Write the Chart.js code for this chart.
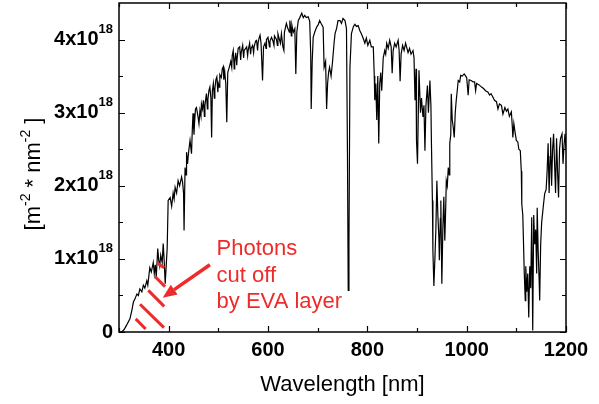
<!DOCTYPE html>
<html><head><meta charset="utf-8">
<script src="https://cdn.jsdelivr.net/npm/chart.js@4"></script>
<style>html,body{margin:0;padding:0;background:#fff}#wrap{width:599px;height:404px}</style>
</head><body><div id="wrap"><canvas id="c" width="599" height="404"></canvas></div>
<script>
// Wavelength [nm]
const wavelength = [
300,305,310,315,322,326,329,332,336,339,342,346,349,352,356,358,362,365,369,371,373,375,378,380,382,384,387,389,391,393,395,397,399,403,406,409,411,413,416,419,422,426,428,430,431,433,435,436,438,
440,443,446,447.5,449,451,452,454,456,459,461,463,465,466,468,470,472,473,476,478,479,481,483,485,486.5,488,490,492,493,495,497,499,500,502,503,506,508,510,511,513,515,517,519,522,525,527,528,530,532,533,535,537,538,540,543,545,546,549,551,552,555,557,559,560,563,565,566,569,571,572,575,577,579,580,582,584,586,589,591,594,596,597,600,603,604,607,610,612,613,617,619,620,623,625,627,630,632,633,637,640,643,644,647,648,651,654,656,658,
661,664,668,671,674,677,681,684,686,687,689,691,694,698,701,704,707,711,713,716,718,720,722,724,727,730,733,735,738,741,745,748,751,755,758,760,761.5,763,765,768,772,775,778,781.5,785,788,792,795,798,801,805,808,812,814,815,817,819,821,823,825,827,829,832,835,837,839,842,845,848,850,852,855,858,862,864,866,868,871,874,877,879,882,885,888,892,894,896,898,899,901,904,907,909,912,914,916,918,921,923,926,928,929,931,932,934,936,938,940,942,944,945,947,948,950,952,954,956,958,959,961,963,965,966,968,969,971,973,975,977,979,981,983,986,988,991,995,998,1000,1003,1005,1009,1013,1016,1018,1020,1025,1030,1034,1038,1043,1046,1049,1053,1056,1060,1063,1066,1070,1073,1077,1080,1083,1086,1090,1092,1093,1095,1097,1100,1103,1105,1108,1110,1111,1113,1114,1116,1118,1119,1121,1123,1125,1127,1129,1131,1133,1135,1137,1139,1141,1142,1144,1146,1147,1149,1151,1154,1157,1160,1162,1164,1166,1168,1169,1171,1173,1175,1177,1179,1181,1183,1185,1187,1189,1192,1194,1196,1198,1200];
// Photon flux [x10^18 m^-2 nm^-1]
const flux = [
0,0,0.03,0.09,0.18,0.30,0.41,0.45,0.52,0.50,0.59,0.55,0.64,0.60,0.70,0.64,0.88,0.82,0.95,0.80,0.92,0.75,1.14,0.98,0.90,1.05,0.95,1.21,0.97,0.66,0.90,1.15,1.80,1.84,1.72,1.90,1.82,1.98,1.90,2.07,2.00,2.12,2.05,1.90,1.39,2.25,2.15,2.46,2.30,
2.45,2.62,2.44,2.75,2.99,2.70,2.85,3.05,3.07,2.95,2.85,3.03,2.95,3.12,3.05,3.17,2.95,3.10,3.26,3.05,3.18,3.30,3.35,3.20,2.66,3.30,3.40,3.20,3.32,3.45,3.49,3.28,3.40,3.35,3.52,3.48,3.60,3.63,3.45,3.55,3.40,2.87,3.55,3.62,3.70,3.62,3.78,3.85,3.60,3.70,3.82,3.65,3.75,3.88,3.90,3.72,3.82,3.92,3.75,3.85,3.88,3.90,3.78,3.85,3.95,3.80,3.88,3.92,3.82,3.90,3.98,3.99,3.85,3.95,4.02,4.06,3.95,3.44,3.90,3.95,3.88,4.00,4.03,3.90,3.98,4.03,3.98,3.92,4.05,4.00,3.92,4.08,4.00,3.95,4.08,3.90,3.85,4.10,4.22,4.15,4.10,4.26,4.05,4.20,4.10,4.15,3.53,4.10,
4.26,4.30,4.36,4.30,4.33,4.30,4.31,4.25,3.80,3.05,3.70,4.03,4.10,4.17,4.20,4.26,4.22,4.17,3.62,3.70,3.05,3.40,3.55,3.62,3.50,3.70,3.95,4.08,4.15,4.26,4.26,4.22,4.29,4.26,4.15,2.44,0.57,1.20,3.62,4.08,4.18,4.21,4.18,4.19,4.12,4.08,4.01,3.95,4.02,3.92,3.99,3.90,3.90,3.50,3.17,3.40,2.90,3.50,2.58,3.40,3.55,3.30,3.75,3.85,3.80,3.95,3.88,3.99,3.90,3.54,3.85,3.95,3.90,3.99,3.85,3.43,3.80,3.92,3.85,3.95,3.90,3.82,3.88,3.80,3.85,3.75,3.17,3.60,2.62,2.30,3.58,3.00,3.20,2.94,3.10,2.48,3.10,3.37,3.00,3.44,3.10,2.62,1.80,1.11,0.63,1.00,1.40,2.07,1.60,1.30,0.98,1.55,1.80,0.66,1.40,1.85,1.25,1.75,2.07,2.00,2.25,2.15,2.58,2.70,3.26,2.90,2.80,2.66,3.00,3.17,3.30,3.44,3.42,3.51,3.50,3.53,3.50,3.48,3.24,3.45,3.44,3.42,3.42,3.30,3.40,3.38,3.35,3.33,3.30,3.28,3.24,3.26,3.21,3.17,3.15,3.05,3.12,3.10,2.98,3.07,3.02,3.05,2.95,3.01,2.80,2.66,2.85,2.75,2.62,2.60,2.50,2.48,2.20,1.75,1.60,1.34,0.80,0.43,0.90,0.55,0.80,0.20,0.90,0.60,1.57,0.02,1.60,1.20,1.40,0.80,1.70,1.10,0.70,0.43,1.20,1.50,1.70,1.89,1.95,2.20,2.58,1.90,2.40,2.66,2.00,2.50,2.71,2.30,1.90,2.65,2.20,1.84,2.50,2.65,2.71,2.30,2.55,2.71,2.50];

const xMajorTicks = [400,600,800,1000,1200];
const xMinorTicks = [300,500,700,900,1100];
const yMajorTicks = [0,1,2,3,4];
const yMinorTicks = [0.5,1.5,2.5,3.5];
const yTickMantissa = ['0','1x10','2x10','3x10','4x10'];
const yTickExponent = ['','18','18','18','18'];

// annotation geometry in data units (wavelength, flux)
const hatchLines = [[333.6,0.18,353.7,0.04],[342.3,0.38,390.5,0.06],[359,0.57,391,0.35],[372.4,0.76,392.6,0.62],[377.8,0.94,391,0.88]];
const arrowTail = [483,0.92], arrowTip = [388,0.47];
const noteLines = ['Photons','cut off','by EVA layer'];
const noteAnchor = [496.5, 1.05];

const FONT = "'Liberation Sans', Arial, Helvetica, sans-serif";
const RED = '#ee2b2b';

const deco = {
  id: 'deco',
  afterDraw(chart) {
    const {ctx, chartArea: a, scales: {x, y}} = chart;
    ctx.save();
    ctx.strokeStyle = '#000'; ctx.lineWidth = 1.5;
    ctx.strokeRect(a.left, a.top, a.right - a.left, a.bottom - a.top);
    ctx.lineWidth = 1.2;
    const tick = (xs, len) => xs.forEach(v => {
      const px = Math.round(x.getPixelForValue(v)) + 0.5;
      ctx.beginPath(); ctx.moveTo(px, a.bottom); ctx.lineTo(px, a.bottom - len);
      ctx.moveTo(px, a.top); ctx.lineTo(px, a.top + len); ctx.stroke();
    });
    const ytick = (ys, len) => ys.forEach(v => {
      const py = Math.round(y.getPixelForValue(v)) + 0.5;
      ctx.beginPath(); ctx.moveTo(a.left, py); ctx.lineTo(a.left + len, py);
      ctx.moveTo(a.right, py); ctx.lineTo(a.right - len, py); ctx.stroke();
    });
    tick(xMajorTicks, 6); tick(xMinorTicks, 4);
    ytick(yMajorTicks, 6); ytick(yMinorTicks, 4);
    ctx.fillStyle = '#000';
    ctx.font = 'bold 20px ' + FONT; ctx.textAlign = 'center'; ctx.textBaseline = 'alphabetic';
    xMajorTicks.forEach(v => ctx.fillText(String(v), x.getPixelForValue(v), a.bottom + 24));
    yMajorTicks.forEach((v, i) => {
      const py = y.getPixelForValue(v) + 5.5;
      const right = a.left - 6;
      ctx.textAlign = 'right';
      ctx.font = 'bold 13px ' + FONT;
      const ew = yTickExponent[i] ? ctx.measureText(yTickExponent[i]).width : 0;
      if (ew) ctx.fillText(yTickExponent[i], right, py - 12);
      ctx.font = 'bold 20px ' + FONT;
      ctx.fillText(yTickMantissa[i], right - ew, py);
    });
    ctx.font = '22px ' + FONT; ctx.textAlign = 'center';
    ctx.fillText('Wavelength [nm]', (a.left + a.right) / 2, 391);
    ctx.save();
    ctx.translate(40, 174); ctx.rotate(-Math.PI / 2);
    const parts = [['[m', 0], ['-2', 1], [' * nm', 0], ['-2', 1], [' ]', 0]];
    let total = 0;
    parts.forEach(p => { ctx.font = (p[1] ? '14px ' : '22px ') + FONT; total += ctx.measureText(p[0]).width; });
    let cx = -total / 2; ctx.textAlign = 'left';
    parts.forEach(p => { ctx.font = (p[1] ? '14px ' : '22px ') + FONT; ctx.fillText(p[0], cx, p[1] ? -10 : 0); cx += ctx.measureText(p[0]).width; });
    ctx.restore();
    ctx.strokeStyle = RED; ctx.fillStyle = RED; ctx.lineWidth = 3; ctx.lineCap = 'butt';
    hatchLines.forEach(h => {
      ctx.beginPath();
      ctx.moveTo(x.getPixelForValue(h[0]), y.getPixelForValue(h[1]));
      ctx.lineTo(x.getPixelForValue(h[2]), y.getPixelForValue(h[3]));
      ctx.stroke();
    });
    const tx = x.getPixelForValue(arrowTail[0]), ty = y.getPixelForValue(arrowTail[1]);
    const hx = x.getPixelForValue(arrowTip[0]), hy = y.getPixelForValue(arrowTip[1]);
    const ang = Math.atan2(hy - ty, hx - tx);
    const hl = 14, hw = 6;
    const bx = hx - hl * Math.cos(ang), by = hy - hl * Math.sin(ang);
    ctx.lineWidth = 3.5;
    ctx.beginPath(); ctx.moveTo(tx, ty); ctx.lineTo(bx, by); ctx.stroke();
    ctx.beginPath(); ctx.moveTo(hx, hy);
    ctx.lineTo(bx + hw * Math.sin(ang), by - hw * Math.cos(ang));
    ctx.lineTo(bx - hw * Math.sin(ang), by + hw * Math.cos(ang));
    ctx.closePath(); ctx.fill();
    ctx.font = '22px ' + FONT; ctx.textAlign = 'left';
    const nx = x.getPixelForValue(noteAnchor[0]), ny = y.getPixelForValue(noteAnchor[1]);
    noteLines.forEach((t, i) => ctx.fillText(t, nx, ny + i * 26.5));
    ctx.restore();
  }
};

new Chart(document.getElementById('c'), {
  type: 'line',
  data: { datasets: [{
    data: wavelength.map((w, i) => ({x: w, y: flux[i]})),
    borderColor: '#000', borderWidth: 1.2, pointRadius: 0, tension: 0, fill: false
  }]},
  options: {
    responsive: false, animation: false, devicePixelRatio: 1,
    layout: { padding: { left: 119, right: 33, top: 3, bottom: 72 } },
    plugins: { legend: { display: false }, tooltip: { enabled: false } },
    scales: {
      x: { type: 'linear', min: 300, max: 1200, ticks: { display: false }, grid: { display: false, drawTicks: false }, border: { display: false } },
      y: { type: 'linear', min: 0, max: 4.5, ticks: { display: false }, grid: { display: false, drawTicks: false }, border: { display: false } }
    }
  },
  plugins: [deco]
});
</script></body></html>
